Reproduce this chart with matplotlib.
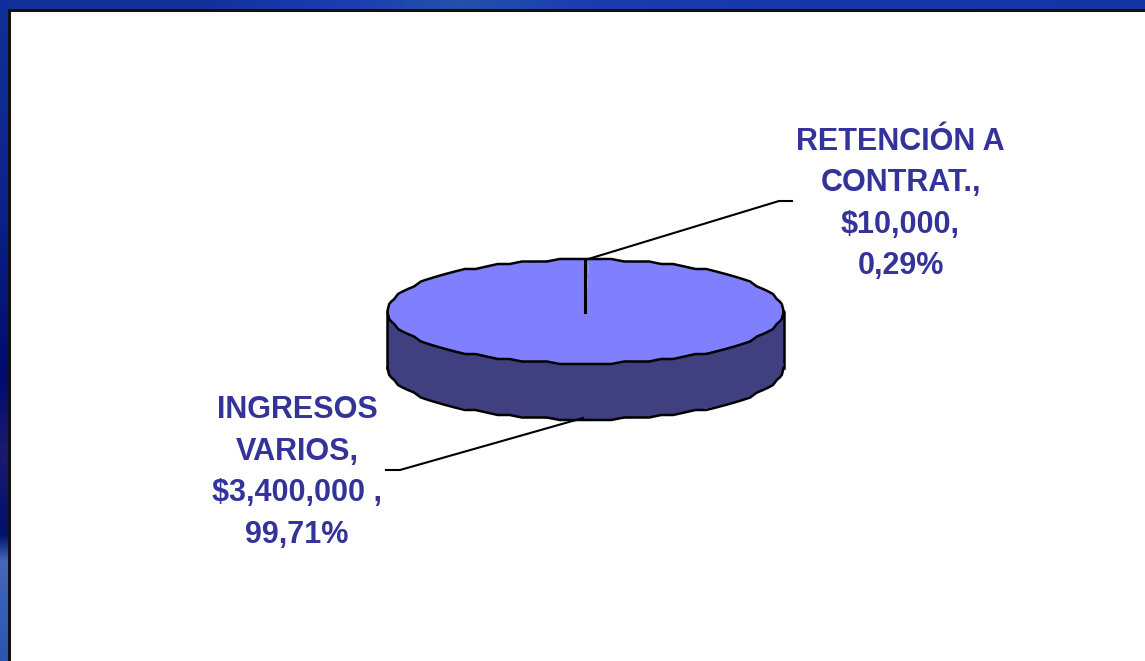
import matplotlib
matplotlib.use('Agg')
import matplotlib.pyplot as plt
from matplotlib.colors import LinearSegmentedColormap
from matplotlib.patches import Rectangle
import numpy as np

W, H = 1145, 661

categories = ['INGRESOS\nVARIOS,', 'RETENCIÓN A\nCONTRAT.,']
amounts = [3400000, 10000]
amount_labels = ['$3,400,000 ,', '$10,000,']
pct_labels = ['99,71%', '0,29%']

plt.rcParams['font.family'] = ['Liberation Sans', 'DejaVu Sans']

fig = plt.figure(figsize=(W / 100, H / 100), dpi=100, facecolor='white')

# slide background, blue gradients
bg = fig.add_axes([0, 0, 1, 1])
top_cmap = LinearSegmentedColormap.from_list('top', [
    (0, '#12309a'), (0.17, '#12309a'), (0.29, '#1a3cb0'), (0.4, '#2450ac'),
    (0.52, '#1a3cb0'), (0.7, '#1538a8'), (1, '#1434a4')])
left_cmap = LinearSegmentedColormap.from_list('left', [
    (0, '#12309a'), (0.3, '#0c2488'), (0.575, '#000a70'), (0.68, '#1c1a70'),
    (0.81, '#00106e'), (0.85, '#4468bc'), (1, '#2a55b0')])
bg.imshow(np.linspace(0, 1, 256).reshape(1, -1), cmap=top_cmap, extent=(0, W, 9, 0), aspect='auto', zorder=1)
bg.imshow(np.linspace(0, 1, 256).reshape(-1, 1), cmap=left_cmap, extent=(0, 9, H, 0), aspect='auto', zorder=1)
bg.set_xlim(0, W)
bg.set_ylim(H, 0)
bg.axis('off')
bg.add_patch(Rectangle((9, 9.5), W, H, facecolor='white', edgecolor='#111111', linewidth=2.2, zorder=2))

# flattened pie, unit circle squashed by the axes shape
cx, cy, rx, ry, depth = 585.5, 311.5, 198, 52, 56
ax = fig.add_axes([(cx - rx) / W, 1 - (cy + ry) / H, 2 * rx / W, 2 * ry / H])
side = '#404080'
top = '#8080ff'
d = depth / ry

w1, _ = ax.pie(amounts[::-1], colors=[side, side], startangle=90, counterclock=False, center=(0, -d))
ax.add_patch(Rectangle((-1, -d), 2, d, facecolor=side, edgecolor='none', zorder=3))
w2, _ = ax.pie(amounts[::-1], colors=[top, top], startangle=90, counterclock=False)
for w in w1:
    w.set_clip_on(False)
for w in w2:
    w.set_clip_on(False)
    w.set_zorder(5)

# the outline in the original is a coarse polygon, so round it the same way
t = np.linspace(0, 2 * np.pi, 97)
ox = np.cos(t)
oy = np.round(np.sin(t) * ry / 2.5) * 2.5 / ry
ax.plot(ox, oy, color='black', lw=1.8, zorder=6, clip_on=False)
low = oy <= 0
ax.plot(np.r_[-1, ox[low][np.argsort(ox[low])], 1], np.r_[0, oy[low][np.argsort(ox[low])], 0] - d,
        color='black', lw=1.8, zorder=4, clip_on=False)
ax.plot([-1, -1], [0, -d], color='black', lw=1.8, zorder=4, clip_on=False)
ax.plot([1, 1], [0, -d], color='black', lw=1.8, zorder=4, clip_on=False)
# slice is so thin only one radius shows
ax.plot([-0.005, -0.005], [0, 1], color='black', lw=2.2, zorder=6, clip_on=False)
ax.set_aspect('auto')
ax.set_xlim(-1, 1)
ax.set_ylim(-1, 1)
ax.axis('off')

# leader lines and labels
over = fig.add_axes([0, 0, 1, 1], zorder=10)
over.set_xlim(0, W)
over.set_ylim(H, 0)
over.axis('off')
over.patch.set_alpha(0)
over.plot([585, 779, 792], [260, 201, 201], color='black', lw=1.5)
over.plot([583, 400, 386], [418, 470, 470], color='black', lw=1.5)

txt = dict(color='#333399', fontsize=22, fontweight='bold', ha='center', va='center', linespacing=1.5)
over.text(900.5, 204, categories[1] + '\n' + amount_labels[1] + '\n' + pct_labels[1], **txt)
over.text(297, 472.5, categories[0] + '\n' + amount_labels[0] + '\n' + pct_labels[0], **txt)

fig.savefig('out.png', dpi=100)
